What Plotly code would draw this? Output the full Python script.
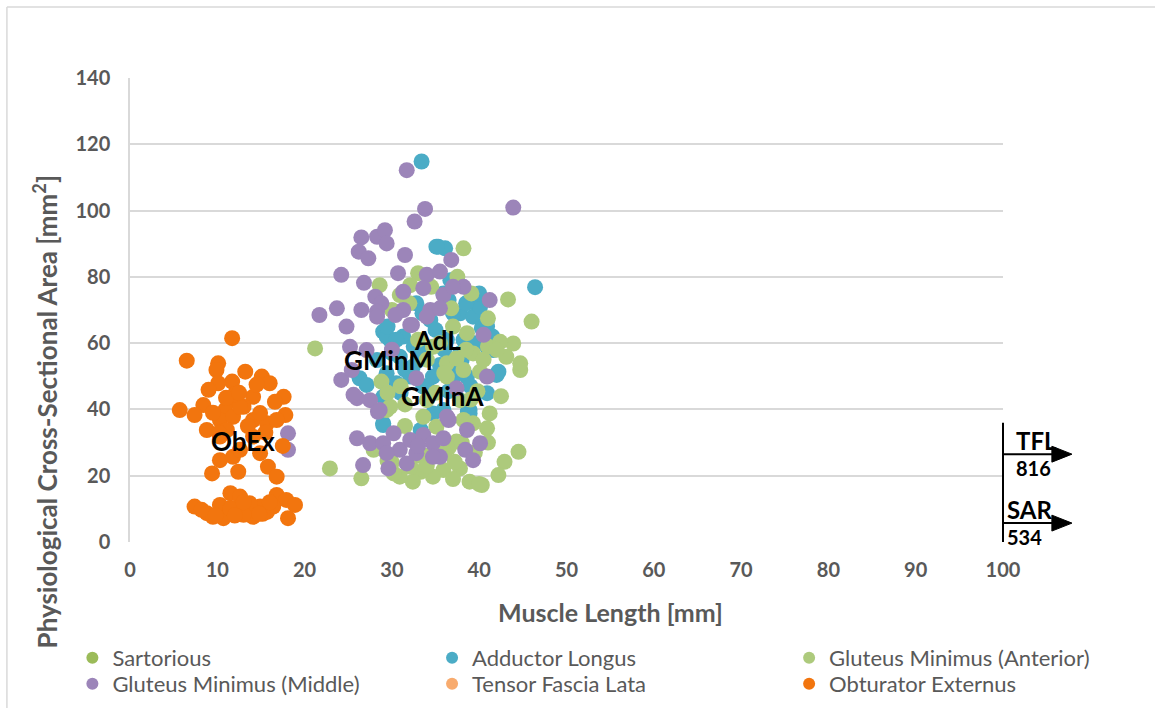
import plotly.graph_objects as go

# ---- data: muscle length [mm] vs physiological cross-sectional area [mm^2] ----
sar_len = [534]
sar_pcsa = [5.7]

tfl_len = [816]
tfl_pcsa = [26.5]

adl_len = [33.4, 46.4, 35.3, 36.1, 36.7, 29.0, 29.8, 31.3, 37.8, 39.3, 39.7, 40.9, 41.6, 42.2,
           38.6, 37.0, 26.3, 27.1, 29.4, 30.5, 32.1, 33.6, 34.7, 35.9, 38.9, 37.8, 36.3, 34.0,
           32.4, 30.9, 35.5, 28.3, 29.0, 40.9, 40.3, 29.0, 34.7, 38.9, 33.3, 29.4, 40.1, 40.9,
           42.0, 40.9, 38.7, 29.0, 34.4, 32.8, 38.2, 30.5, 35.1, 35.9,
           31.5, 33.0, 36.0, 38.0, 39.5, 37.5, 34.0, 31.0, 36.5, 39.0, 41.5, 30.0, 32.5, 35.0,
           37.0, 33.5, 36.5, 38.5, 29.5, 40.0]
adl_pcsa = [114.8, 76.9, 89.1, 88.6, 79.0, 63.5, 61.0, 62.0, 69.0, 68.0, 72.0, 58.9, 57.9, 51.4,
            49.9, 49.4, 49.4, 47.4, 50.9, 47.9, 49.9, 46.9, 49.9, 39.8, 39.8, 56.9, 61.0, 57.9,
            52.9, 55.9, 53.4, 54.9, 43.8, 67.0, 64.5, 35.8, 38.8, 38.8, 33.8, 62.0, 71.0, 65.0,
            50.4, 44.9, 39.3, 35.3, 67.0, 72.0, 61.0, 61.0, 89.1, 75.0,
            52.0, 55.0, 58.0, 55.0, 60.0, 52.0, 47.0, 45.0, 45.5, 47.0, 62.0, 57.0, 59.0, 64.0,
            69.0, 69.0, 73.0, 72.0, 65.0, 75.0]

gmina_len = [38.2, 21.2, 22.9, 26.5, 43.3, 46.0, 44.5, 44.7, 43.9, 42.4, 43.1, 44.7, 42.9, 42.2,
             40.3, 38.9, 37.8, 35.9, 34.7, 33.3, 32.4, 30.9, 30.2, 27.9, 29.4, 33.6, 35.1, 37.4,
             37.2, 32.1, 38.2, 39.3, 41.2, 40.9, 39.3, 36.3, 38.2, 40.1, 28.8, 37.8, 34.0, 29.8,
             41.0, 34.7, 36.3, 38.6, 37.0, 37.4, 28.6, 33.0, 39.1, 30.9, 36.8, 32.1, 41.0, 31.5,
             35.0, 29.5, 36.5, 40.0, 33.8, 31.0, 39.8,
             33.0, 35.5, 38.5, 40.5, 36.0, 34.0, 42.0, 30.0, 32.0, 34.5, 37.5, 33.0, 36.0, 38.0,
             39.5, 41.0, 34.0, 37.0, 30.0, 31.5, 29.5, 39.0, 42.5]
gmina_pcsa = [88.6, 58.4, 22.2, 19.2, 73.2, 66.5, 27.2, 51.9, 59.9, 60.4, 55.9, 53.9, 24.2, 20.2,
              17.2, 18.2, 22.2, 21.7, 19.7, 21.2, 18.2, 19.7, 20.7, 27.8, 39.8, 37.8, 34.8, 30.3,
              24.2, 22.7, 36.8, 35.8, 38.8, 34.3, 56.9, 53.9, 51.9, 51.4, 48.4, 42.8, 42.8, 40.8,
              67.5, 58.9, 49.9, 63.0, 65.0, 55.4, 77.5, 81.1, 75.0, 74.5, 70.5, 77.5, 59.0, 41.5,
              45.0, 24.5, 28.5, 17.5, 26.0, 47.0, 45.5,
              61.0, 60.0, 58.0, 55.0, 51.0, 55.0, 58.0, 70.0, 72.0, 77.0, 80.0, 26.0, 27.0, 30.0,
              27.0, 30.0, 23.0, 19.0, 24.0, 35.0, 45.0, 43.0, 44.0]

gminm_len = [31.7, 43.9, 33.8, 32.6, 26.5, 28.3, 29.2, 29.4, 26.2, 27.3, 31.5, 36.8, 24.2, 26.8,
             30.7, 34.0, 35.5, 31.3, 33.6, 38.2, 41.2, 28.1, 28.8, 26.5, 23.7, 21.7, 28.3, 31.3,
             34.4, 35.9, 37.0, 24.8, 32.3, 40.5, 25.2, 24.2, 25.4, 32.8, 40.9, 26.0, 27.5, 28.4,
             36.5, 38.6, 18.1, 18.1, 26.0, 27.5, 29.0, 30.2, 30.9, 32.1, 33.6, 34.7, 35.9, 35.5,
             38.4, 40.1, 39.3, 26.7, 29.6, 31.7, 29.4, 32.8, 34.7, 28.3, 30.4, 32.1, 34.0, 27.1,
             25.6, 28.6, 37.4, 36.3, 35.5, 30.0, 33.0]
gminm_pcsa = [112.2, 100.9, 100.5, 96.7, 91.9, 92.1, 94.1, 90.1, 87.6, 85.6, 86.6, 85.1, 80.6, 78.2,
              81.1, 80.6, 81.6, 75.5, 76.6, 77.0, 73.0, 74.0, 72.0, 70.0, 70.5, 68.5, 69.5, 70.0,
              70.0, 74.5, 77.0, 65.0, 65.5, 62.5, 58.9, 48.9, 51.9, 49.4, 49.9, 43.4, 42.8, 39.3,
              36.8, 33.8, 32.8, 27.8, 31.3, 29.8, 29.8, 32.8, 27.8, 30.8, 32.3, 29.8, 31.3, 25.7,
              27.8, 29.8, 24.7, 23.2, 22.2, 23.7, 26.8, 26.8, 25.7, 68.0, 68.5, 65.5, 68.0, 57.9,
              44.4, 39.8, 46.4, 37.8, 70.5, 58.0, 29.0]

obex_len = [11.7, 6.5, 10.1, 9.9, 13.2, 15.1, 16.0, 11.7, 10.1, 9.0, 14.1, 17.6, 16.6, 8.4,
            5.7, 7.4, 17.8, 11.8, 13.0, 10.9, 8.8, 10.3, 11.8, 14.1, 15.7, 16.8, 14.9, 12.6,
            10.3, 11.8, 12.6, 14.9, 9.4, 12.4, 15.8, 16.8, 10.3, 14.1, 11.1, 7.4, 8.8, 10.3,
            11.5, 12.6, 13.4, 14.9, 16.8, 17.9, 18.9, 18.1, 9.5, 10.7, 12.2, 14.1, 15.7, 16.4,
            13.7, 11.5, 8.2, 9.8, 13.0, 15.2, 12.0, 11.0,
            12.5, 14.5, 13.5, 9.5, 15.5, 11.5, 13.0, 16.0, 12.0, 14.8, 10.2, 17.5]
obex_pcsa = [61.5, 54.7, 53.9, 51.9, 51.4, 49.9, 47.9, 48.4, 47.9, 45.9, 43.8, 43.8, 42.3, 41.3,
             39.8, 38.3, 38.3, 42.8, 40.8, 39.8, 33.8, 36.8, 37.8, 36.8, 35.8, 36.8, 38.9, 40.8,
             24.7, 25.7, 27.8, 26.8, 20.7, 21.2, 22.7, 19.7, 31.8, 31.8, 33.8, 10.7, 8.7, 11.2,
             14.7, 13.7, 9.7, 10.7, 14.2, 12.7, 11.2, 7.2, 7.6, 7.2, 8.7, 7.6, 9.1, 10.7,
             11.7, 10.2, 9.7, 8.0, 8.2, 8.5, 44.5, 43.5,
             45.0, 47.5, 35.0, 39.0, 33.0, 10.0, 12.0, 12.0, 8.0, 8.5, 33.0, 29.0]

# ---- styling ----
FONT = "Lato"
GREY = "#595959"
GRID = "#D9D9D9"

# legend grid: 3 columns x 2 rows (paper coordinates of each entry)
LEG_COL_X = [-0.066, 0.346, 0.755]
LEG_ROW_Y = [-0.25, -0.306]

series = [
    ("Sartorious", sar_len, sar_pcsa, "#9BBB59", 0, 0),
    ("Adductor Longus", adl_len, adl_pcsa, "#4BACC6", 1, 0),
    ("Gluteus Minimus (Anterior)", gmina_len, gmina_pcsa, "#ADCA7C", 2, 0),
    ("Gluteus Minimus (Middle)", gminm_len, gminm_pcsa, "#9C85B9", 0, 1),
    ("Tensor Fascia Lata", tfl_len, tfl_pcsa, "#F8AB6E", 1, 1),
    ("Obturator Externus", obex_len, obex_pcsa, "#F2750E", 2, 1),
]

fig = go.Figure()
legends = {}
for i, (name, xs, ys, color, col, row) in enumerate(series):
    leg_id = "legend" if i == 0 else f"legend{i + 1}"
    legends[leg_id] = dict(x=LEG_COL_X[col], y=LEG_ROW_Y[row], orientation="v",
                           xanchor="left", yanchor="middle", bgcolor="rgba(0,0,0,0)",
                           font=dict(family=FONT, size=22, color=GREY),
                           itemsizing="constant", itemwidth=30)
    fig.add_trace(go.Scatter(
        x=xs, y=ys, mode="markers", name=name, legend=leg_id,
        marker=dict(size=16, color=color, line=dict(width=0)),
    ))

# cluster labels
cluster_labels = [("ObEx", 12.9, 30.5), ("GMinM", 29.6, 54.9), ("AdL", 35.2, 61.0), ("GMinA", 35.9, 44.0)]
annotations = []
for txt, lx, ly in cluster_labels:
    annotations.append(dict(x=lx, y=ly, xref="x", yref="y", text=f"<b>{txt}</b>", showarrow=False,
                            font=dict(family=FONT, size=26, color="black")))

# off-scale series: arrows at the right edge labelled with the out-of-range length
XMAX = 100
HEAD = 2.4  # half-height of an arrow head, in y units
shapes = [
    dict(type="line", xref="paper", yref="y", x0=1.0, x1=1.0, y0=0, y1=36,
         line=dict(color="black", width=2)),
    # outer chart frame
    dict(type="line", xref="paper", yref="paper", x0=-0.141, x1=-0.141, y0=-0.36, y1=1.153,
         line=dict(color=GRID, width=1.5)),
    dict(type="line", xref="paper", yref="paper", x0=-0.141, x1=1.2, y0=1.153, y1=1.153,
         line=dict(color=GRID, width=1.5)),
]
for abbr, xs, ys, indent in [("TFL", tfl_len, tfl_pcsa, 0.013), ("SAR", sar_len, sar_pcsa, 0.002)]:
    yv = ys[0]
    shapes.append(dict(type="line", xref="paper", yref="y", x0=1.0, x1=1.058, y0=yv, y1=yv,
                       line=dict(color="black", width=2)))
    shapes.append(dict(type="path", xref="paper", yref="y",
                       path=f"M 1.056 {yv - HEAD} L 1.079 {yv} L 1.056 {yv + HEAD} Z",
                       fillcolor="black", line=dict(color="black", width=1)))
    annotations.append(dict(x=1.0 + indent, y=yv, xref="paper", yref="y", xanchor="left", yanchor="bottom",
                            text=f"<b>{abbr}</b>", showarrow=False, yshift=-3,
                            font=dict(family=FONT, size=24, color="black")))
    annotations.append(dict(x=1.0 + indent, y=yv, xref="paper", yref="y", xanchor="left", yanchor="top",
                            text=f"<b>{xs[0]}</b>", showarrow=False, yshift=0,
                            font=dict(family=FONT, size=20, color="black")))

# axis titles placed as annotations
annotations.append(dict(x=-0.097, y=0.28, xref="paper", yref="paper", textangle=-90,
                        xanchor="center", yanchor="middle",
                        text="<b>Physiological Cross-Sectional Area [mm<sup>2</sup>]</b>",
                        showarrow=False, font=dict(family=FONT, size=26, color=GREY)))
annotations.append(dict(x=0.55, y=-0.151, xref="paper", yref="paper",
                        xanchor="center", yanchor="middle",
                        text="<b>Muscle Length [mm]</b>",
                        showarrow=False, font=dict(family=FONT, size=25, color=GREY)))

fig.update_layout(
    width=1155, height=708,
    margin=dict(l=130, r=152, t=78, b=166, autoexpand=False),
    paper_bgcolor="white", plot_bgcolor="white",
    font=dict(family=FONT, color=GREY),
    showlegend=True,
    xaxis=dict(range=[0, XMAX], dtick=10, showgrid=False, zeroline=False, showline=False,
               tickfont=dict(family=FONT, size=20, color=GREY), ticklabelstandoff=14),
    yaxis=dict(range=[0, 140], dtick=20, showgrid=True, gridcolor=GRID, gridwidth=1.5,
               zeroline=False, showline=True, linecolor=GRID, linewidth=1.5,
               tickfont=dict(family=FONT, size=20, color=GREY), ticklabelstandoff=14),
    annotations=annotations,
    shapes=shapes,
    **legends,
)
fig.for_each_xaxis(lambda a: a.update(tickprefix="<b>", ticksuffix="</b>"))
fig.for_each_yaxis(lambda a: a.update(tickprefix="<b>", ticksuffix="</b>"))

fig.write_html("out.html")
